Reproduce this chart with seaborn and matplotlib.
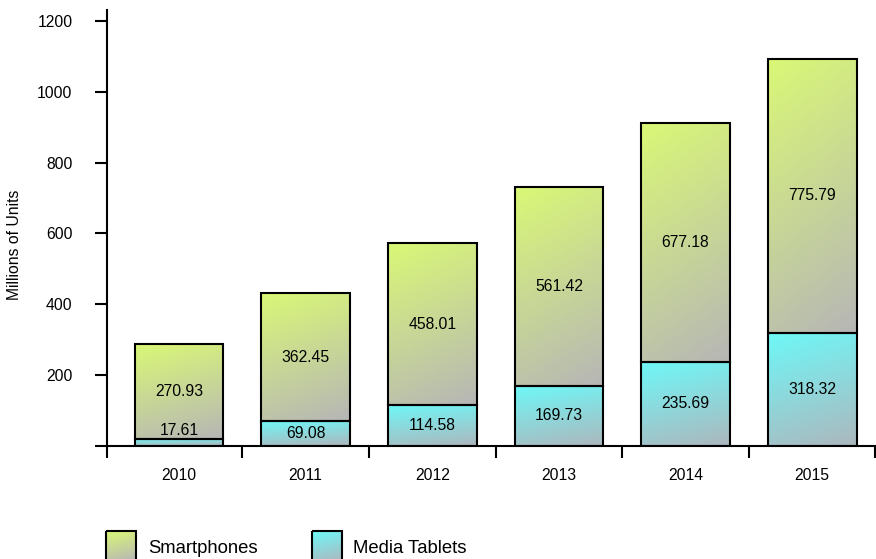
import numpy as np
import pandas as pd
import matplotlib
matplotlib.use("Agg")
import matplotlib.pyplot as plt
from matplotlib.patches import Rectangle
import seaborn as sns

# Worldwide shipments, millions of units
years = ["2010", "2011", "2012", "2013", "2014", "2015"]
media_tablets = [17.61, 69.08, 114.58, 169.73, 235.69, 318.32]
smartphones = [270.93, 362.45, 458.01, 561.42, 677.18, 775.79]
series_names = ["Smartphones", "Media Tablets"]
y_ticks = [0, 200, 400, 600, 800, 1000, 1200]
y_label = "Millions of Units"

# gradient end colours (top-left -> bottom-right)
phone_top, phone_bottom = np.array([218, 248, 118]) / 255, np.array([182, 182, 182]) / 255
tablet_top, tablet_bottom = np.array([110, 248, 248]) / 255, np.array([172, 184, 190]) / 255

sns.set_style("white")
plt.rcParams["font.family"] = ["Liberation Sans", "DejaVu Sans"]
plt.rcParams["text.color"] = "black"
plt.rcParams["axes.labelcolor"] = "black"
plt.rcParams["xtick.color"] = "black"
plt.rcParams["ytick.color"] = "black"

W, H = 876, 559
fig = plt.figure(figsize=(W / 100, H / 100), dpi=100)
x_left, x_right, y_zero, y_top = 106.7, 875.5, 445.5, 10
ax = fig.add_axes([x_left / W, (H - y_zero) / H, (x_right - x_left) / W, (y_zero - y_top) / H])

df = pd.DataFrame({"year": years, "Media Tablets": media_tablets, "Smartphones": smartphones})


def gradient(top, bottom, n=96):
    v = np.linspace(0, 1, n)[:, None]
    u = np.linspace(0, 1, n)[None, :]
    t = np.clip(0.8 * v + 0.2 * u, 0, 1)
    return top + t[..., None] * (bottom - top)


# tablets at the base, smartphones stacked on top
sns.barplot(data=df, x="year", y="Media Tablets", width=0.7, color="white",
            edgecolor="black", linewidth=1.5, ax=ax)
n_tab = len(ax.patches)
sns.barplot(data=df, x="year", y="Smartphones", width=0.7, color="white",
            edgecolor="black", linewidth=1.5, ax=ax)
phone_patches = ax.patches[n_tab:]
tablet_patches = ax.patches[:n_tab]
for p, base in zip(phone_patches, media_tablets):
    p.set_y(base)

for patches, top, bottom in [(tablet_patches, tablet_top, tablet_bottom),
                             (phone_patches, phone_top, phone_bottom)]:
    for p in patches:
        x0, y0, w, h = p.get_x(), p.get_y(), p.get_width(), p.get_height()
        ax.imshow(gradient(top, bottom), extent=(x0, x0 + w, y0, y0 + h),
                  origin="upper", aspect="auto", zorder=1.5, interpolation="bilinear")
        p.set_facecolor("none")
        p.set_zorder(2)

# value labels
for i, (t, s) in enumerate(zip(media_tablets, smartphones)):
    if t < 40:
        ax.text(i, t + 3, f"{t:.2f}", ha="center", va="bottom", fontsize=11.3, zorder=3)
    else:
        ax.text(i, t / 2, f"{t:.2f}", ha="center", va="center", fontsize=11.3, zorder=3)
    ax.text(i, t + s / 2, f"{s:.2f}", ha="center", va="center", fontsize=11.3, zorder=3)

ax.set_xlim(-0.57, 5.5)
ax.set_ylim(0, 1232)
ax.set_xticks(range(len(years)))
ax.set_xticklabels(years)
ax.set_xticks([-0.57, 0.5, 1.5, 2.5, 3.5, 4.5, 5.5], minor=True)
ax.tick_params(axis="x", which="major", bottom=True, length=0, pad=16, labelsize=11.3)
ax.tick_params(axis="x", which="minor", bottom=True, length=8.6, width=1.5,
               direction="out", color="black")
ax.set_yticks(y_ticks)
ax.set_yticklabels([""] + [str(v) for v in y_ticks[1:]])
ax.tick_params(axis="y", which="major", left=True, length=8.6, width=1.5, direction="out",
               pad=16, labelsize=11.3, color="black")
ax.set_xlabel("")
ax.set_ylabel(y_label, fontsize=11.3)
ax.yaxis.set_label_coords(-0.110, 0.46)
for side in ["top", "right"]:
    ax.spines[side].set_visible(False)
for side in ["left", "bottom"]:
    ax.spines[side].set_linewidth(1.5)
    ax.spines[side].set_color("black")
ax.patch.set_alpha(0)

# legend row along the bottom edge
lax = fig.add_axes([0, 0, 1, 1])
lax.set_xlim(0, W)
lax.set_ylim(H, 0)
lax.axis("off")
lax.patch.set_alpha(0)
legend_items = [(series_names[0], phone_top, phone_bottom, 106, 148),
                (series_names[1], tablet_top, tablet_bottom, 312, 353)]
for name, top, bottom, sx, tx in legend_items:
    lax.imshow(gradient(top, bottom), extent=(sx, sx + 30, 561, 531), origin="upper",
               aspect="auto", interpolation="bilinear")
    lax.add_patch(Rectangle((sx, 531), 30, 30, facecolor="none", edgecolor="black", linewidth=1.5))
    lax.text(tx, 553, name, ha="left", va="baseline", fontsize=13.3)
lax.set_xlim(0, W)
lax.set_ylim(H, 0)

fig.savefig("out.png", dpi=100)
